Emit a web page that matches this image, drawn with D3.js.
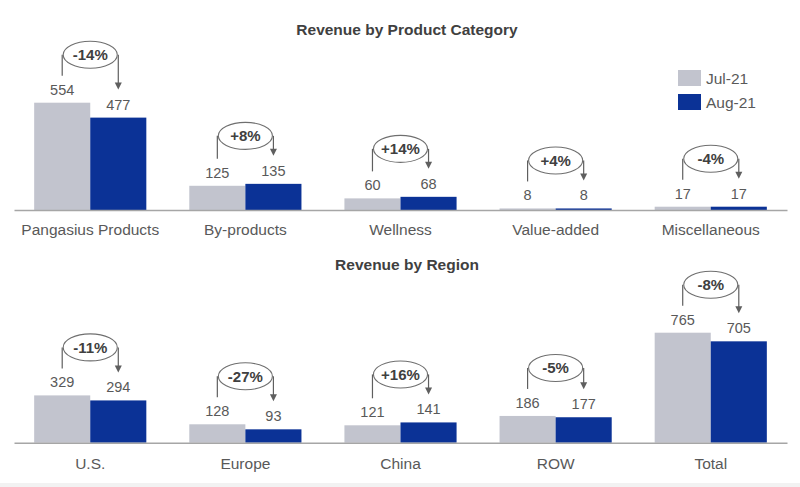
<!DOCTYPE html>
<html>
<head>
<meta charset="utf-8">
<script src="https://cdn.jsdelivr.net/npm/d3@7"></script>
<style>
  html, body { margin: 0; padding: 0; background: #ffffff; }
  svg { display: block; font-family: "Liberation Sans", Arial, sans-serif; }
</style>
</head>
<body>
<svg id="chart" width="800" height="487"></svg>
<script>
// ---- data ----
const seriesNames = ["Jul-21", "Aug-21"];

const productCategories = ["Pangasius Products", "By-products", "Wellness", "Value-added", "Miscellaneous"];
const productJul = [554, 125, 60, 8, 17];
const productAug = [477, 135, 68, 8, 17];
const productChange = ["-14%", "+8%", "+14%", "+4%", "-4%"];

const regionCategories = ["U.S.", "Europe", "China", "ROW", "Total"];
const regionJul = [329, 128, 121, 186, 765];
const regionAug = [294, 93, 141, 177, 705];
const regionChange = ["-11%", "-27%", "+16%", "-5%", "-8%"];

// ---- styles ----
const colors = { "Jul-21": "#c2c4ce", "Aug-21": "#0b3296" };
const textGray = "#595959";
const titleGray = "#404040";

const svg = d3.select("#chart");
const W = 800, H = 487;

svg.append("rect").attr("x", 0).attr("y", 483).attr("width", W).attr("height", 4).attr("fill", "#f2f2f2");

function drawPanel(cfg) {
  const g = svg.append("g");
  const x0 = d3.scaleBand().domain(cfg.categories).range([14, 787])
    .paddingInner(0.277).paddingOuter(0.13);
  const x1 = d3.scaleBand().domain(seriesNames).range([0, x0.bandwidth()]);
  const maxV = d3.max(cfg.jul.concat(cfg.aug));
  const y = d3.scaleLinear().domain([0, maxV]).range([cfg.baseline, cfg.baseline - cfg.maxHeight]);

  const rows = cfg.categories.map((c, i) => ({
    cat: c, vals: [cfg.jul[i], cfg.aug[i]], change: cfg.change[i]
  }));

  // title
  g.append("text").attr("x", 407).attr("y", cfg.titleY)
    .attr("text-anchor", "middle").attr("font-size", 15.5).attr("font-weight", "bold")
    .attr("fill", titleGray).text(cfg.title);

  // bars
  const grp = g.selectAll("g.grp").data(rows).join("g")
    .attr("transform", d => `translate(${x0(d.cat)},0)`);
  grp.selectAll("rect").data(d => d.vals.map((v, j) => ({ s: seriesNames[j], v })))
    .join("rect")
    .attr("x", d => x1(d.s)).attr("width", x1.bandwidth())
    .attr("y", d => y(d.v)).attr("height", d => y(0) - y(d.v))
    .attr("fill", d => colors[d.s]);

  // value labels
  grp.selectAll("text.val").data(d => d.vals.map((v, j) => ({ s: seriesNames[j], v })))
    .join("text").attr("class", "val")
    .attr("x", d => x1(d.s) + x1.bandwidth() / 2)
    .attr("y", d => y(d.v) - 8)
    .attr("text-anchor", "middle").attr("font-size", 14.5).attr("fill", textGray)
    .text(d => d.v);

  // axis (baseline) + category labels
  const axis = d3.axisBottom(x0).tickSize(0).tickPadding(cfg.tickPad);
  const ax = g.append("g").attr("transform", `translate(0,${cfg.baseline})`).call(axis);
  ax.select(".domain").attr("stroke", "#a6a6a6").attr("stroke-width", 1.5);
  ax.selectAll("text").attr("font-size", 15.5).attr("fill", textGray)
    .attr("font-family", "Liberation Sans, Arial, sans-serif");

  // change annotations
  grp.each(function(d) {
    const a = d3.select(this);
    const cxL = x1("Jul-21") + x1.bandwidth() / 2;
    const cxR = x1("Aug-21") + x1.bandwidth() / 2;
    const top = y(d3.max(d.vals));
    const ey = top - 48;
    const ex = (cxL + cxR) / 2;
    const rx = (cxR - cxL) / 2 - 1;
    const ry = 13.5;
    const yL = y(d.vals[0]) - 27;
    const yTip = y(d.vals[1]) - 28;
    const lineCol = "#5f5f5f";
    a.append("path").attr("d", `M${cxL},${yL}V${ey}`).attr("stroke", lineCol).attr("stroke-width", 1.2).attr("fill", "none");
    a.append("path").attr("d", `M${cxR},${ey}V${yTip - 6}`).attr("stroke", lineCol).attr("stroke-width", 1.2).attr("fill", "none");
    a.append("path").attr("d", `M${cxR - 3.5},${yTip - 7}L${cxR + 3.5},${yTip - 7}L${cxR},${yTip}Z`).attr("fill", lineCol);
    a.append("ellipse").attr("cx", ex).attr("cy", ey).attr("rx", rx).attr("ry", ry)
      .attr("fill", "#ffffff").attr("stroke", "#6f6f6f").attr("stroke-width", 1.1);
    a.append("text").attr("x", ex).attr("y", ey + 5.5)
      .attr("text-anchor", "middle").attr("font-size", 15).attr("font-weight", "bold")
      .attr("fill", titleGray).text(d.change);
  });
}

drawPanel({
  title: "Revenue by Product Category", titleY: 35,
  categories: productCategories, jul: productJul, aug: productAug, change: productChange,
  baseline: 210, maxHeight: 107.3, tickPad: 14
});

drawPanel({
  title: "Revenue by Region", titleY: 270,
  categories: regionCategories, jul: regionJul, aug: regionAug, change: regionChange,
  baseline: 442.7, maxHeight: 110, tickPad: 15
});

// legend
const leg = svg.append("g").attr("transform", "translate(678,70)");
seriesNames.forEach((s, i) => {
  leg.append("rect").attr("x", 0).attr("y", i * 24).attr("width", 23).attr("height", 16).attr("fill", colors[s]);
  leg.append("text").attr("x", 28).attr("y", i * 24 + 13.5).attr("font-size", 15.5)
    .attr("fill", textGray).text(s);
});
</script>
</body>
</html>
